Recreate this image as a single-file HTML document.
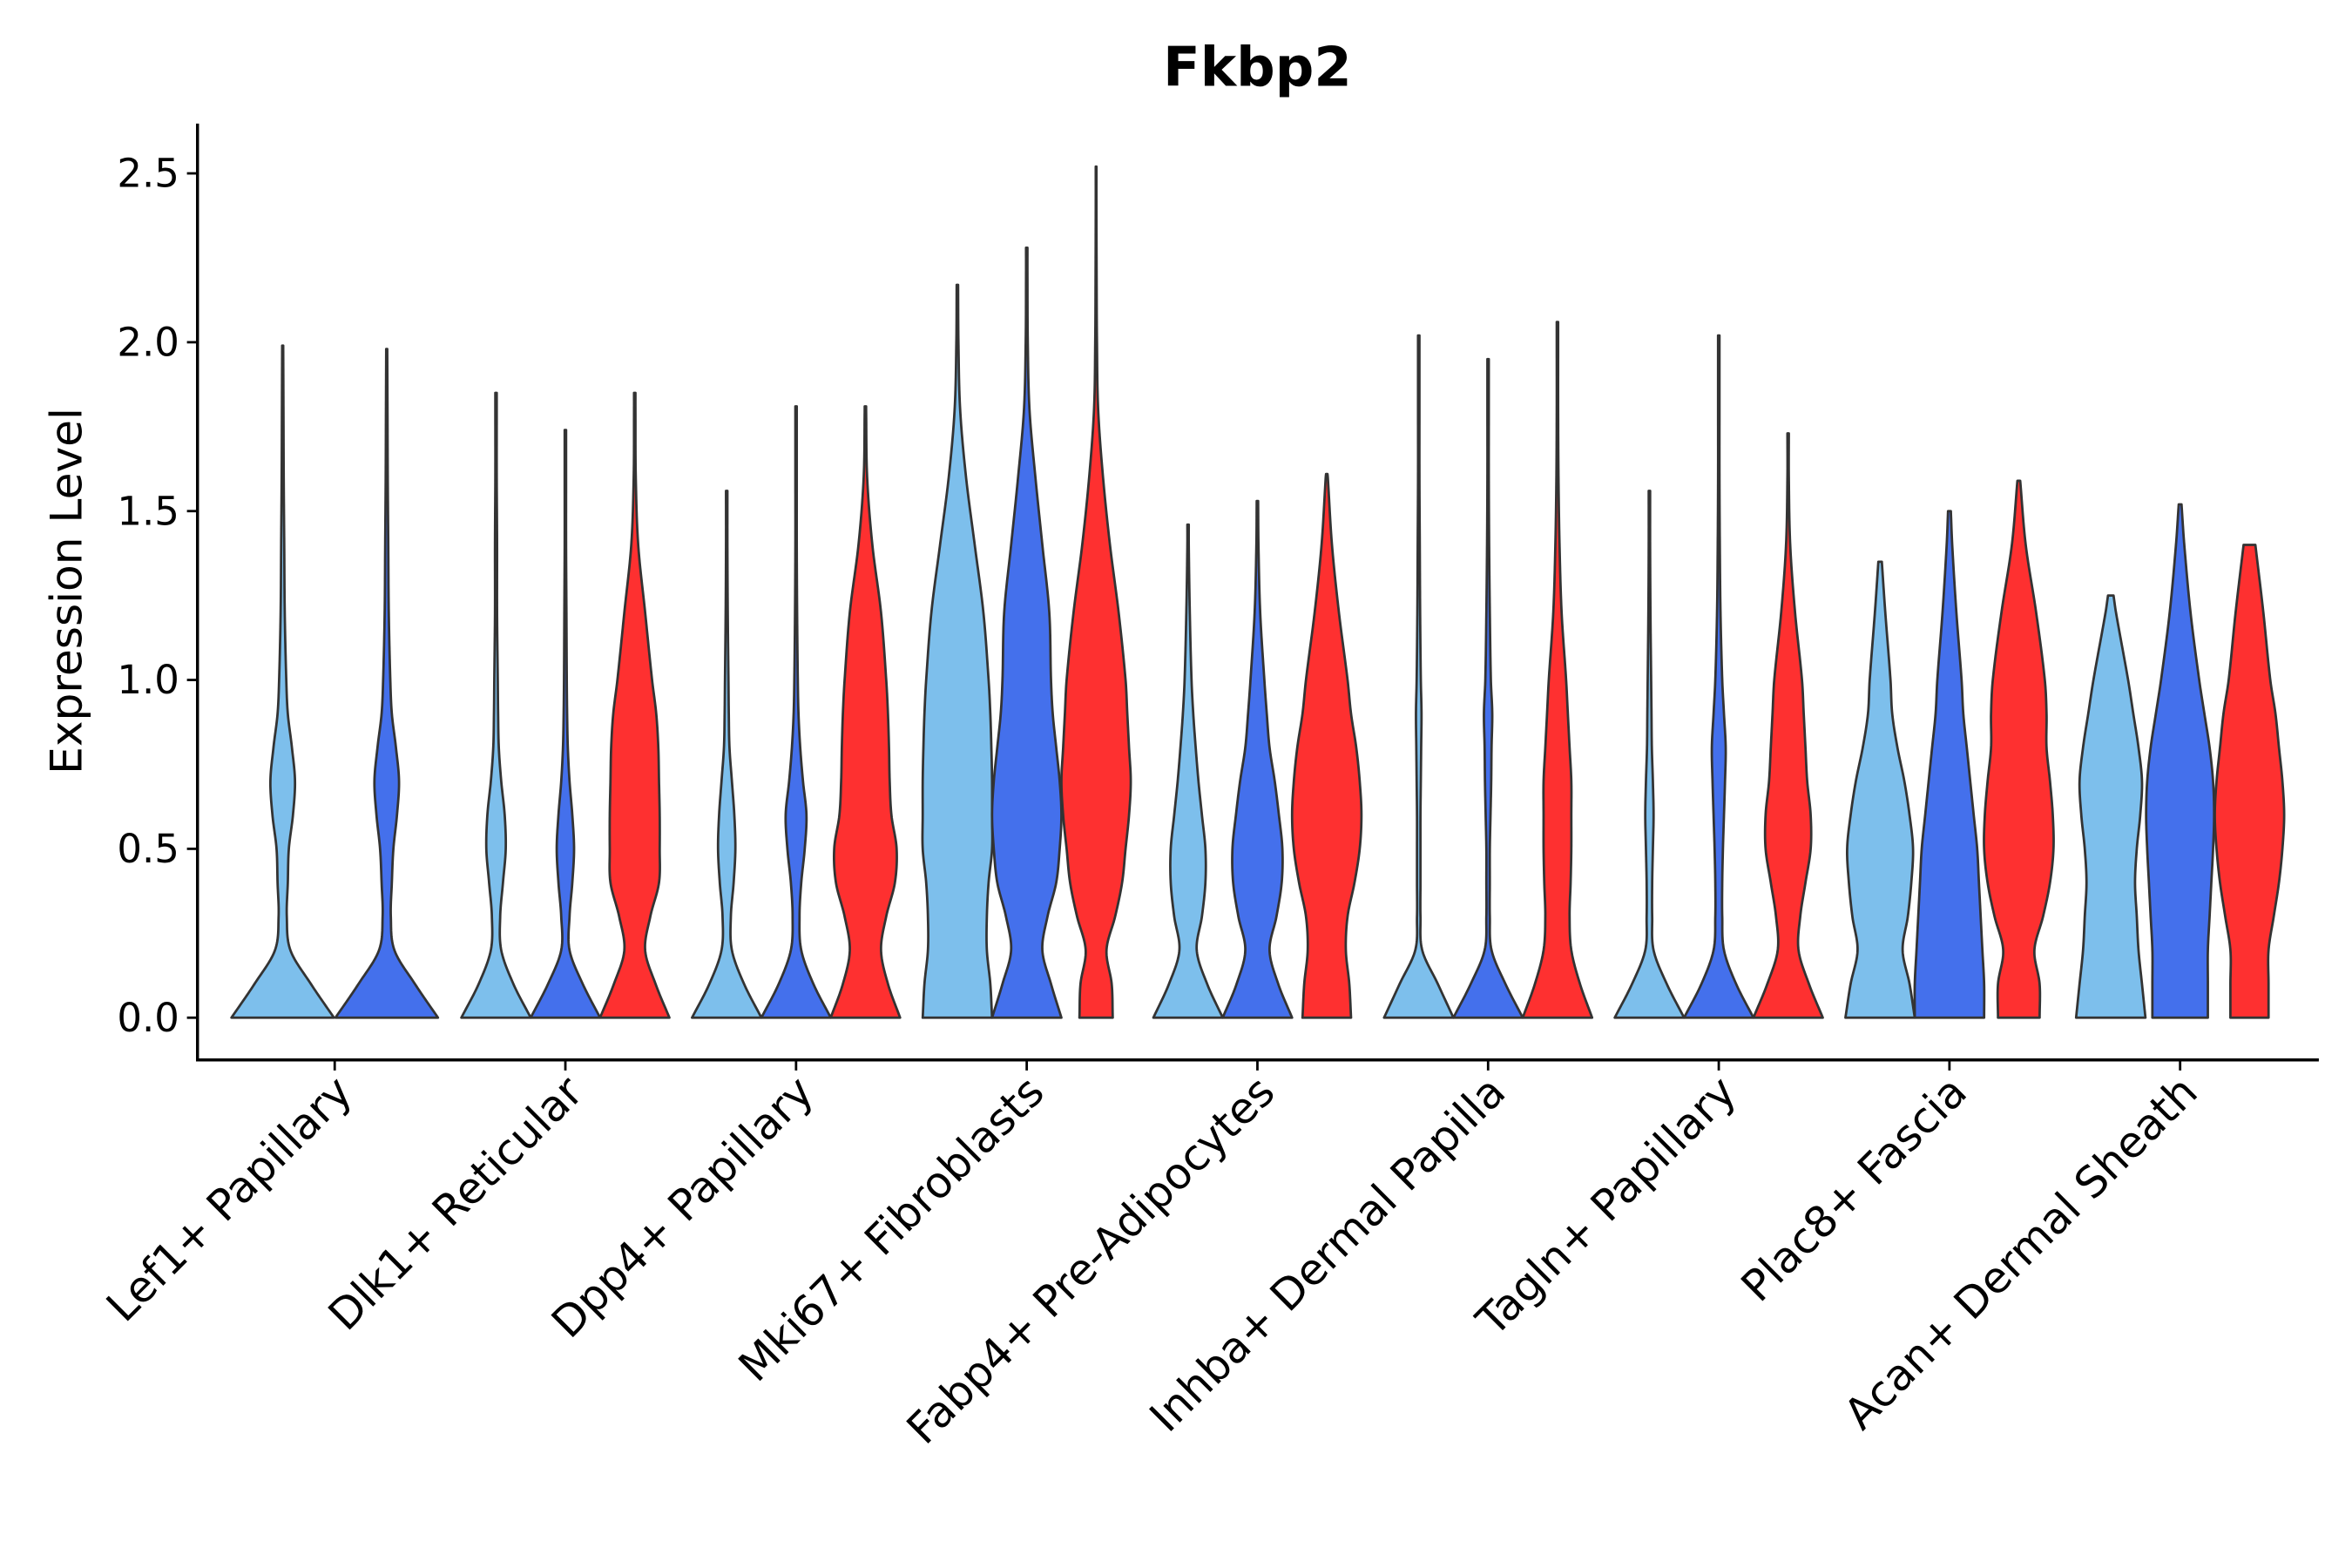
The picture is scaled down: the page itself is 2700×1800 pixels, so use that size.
<!DOCTYPE html>
<html><head><meta charset="utf-8"><style>html,body{margin:0;padding:0;background:#fff}svg{display:block}text{font-family:"DejaVu Sans","Liberation Sans",sans-serif;fill:#000}</style></head>
<body>
<svg id="chart" width="2700" height="1800" viewBox="0 0 1560 1040" xmlns="http://www.w3.org/2000/svg">
<rect width="1560" height="1040" fill="#fff"/>
<text x="834" y="57" text-anchor="middle" font-size="36" font-weight="bold">Fkbp2</text>
<text transform="translate(54,392) rotate(-90)" text-anchor="middle" font-size="29">Expression Level</text>
<g id="plot"></g>
</svg>
<script>
const categories = ["Lef1+ Papillary","Dlk1+ Reticular","Dpp4+ Papillary","Mki67+ Fibroblasts","Fabp4+ Pre-Adipocytes","Inhba+ Dermal Papilla","Tagln+ Papillary","Plac8+ Fascia","Acan+ Dermal Sheath"];
const yTicks = [0, 0.5, 1.0, 1.5, 2.0, 2.5];
const yTickLabels = ["0.0","0.5","1.0","1.5","2.0","2.5"];
const levels = [0,0.1,0.2,0.3,0.4,0.5,0.6,0.7,0.8,0.9,1.0,1.2,1.4,1.6,1.8,2.0,2.2,2.4];
const seriesColors = ["#7dbfec","#4470ec","#fe3030"];
// per category: list of violins [seriesIndex, max value, tip width, density widths at levels]
const violins = [
 [[0,1.99,0.01,[1.0,0.55,0.15,0.08,0.1,0.12,0.2,0.24,0.18,0.1,0.07,0.04,0.03,0.02,0.015,0.01]],
  [1,1.98,0.01,[1.0,0.55,0.15,0.08,0.1,0.13,0.2,0.24,0.18,0.1,0.07,0.04,0.03,0.02,0.015,0.01]]],
 [[0,1.85,0.02,[1.0,0.5,0.15,0.12,0.2,0.28,0.25,0.15,0.08,0.06,0.05,0.03,0.03,0.02,0.02]],
  [1,1.74,0.02,[1.0,0.5,0.12,0.12,0.2,0.25,0.2,0.12,0.07,0.05,0.04,0.03,0.02,0.02]],
  [2,1.85,0.02,[1.0,0.6,0.3,0.45,0.7,0.72,0.72,0.7,0.68,0.62,0.5,0.3,0.1,0.03,0.02]]],
 [[0,1.56,0.02,[1.0,0.5,0.15,0.12,0.2,0.25,0.22,0.15,0.08,0.06,0.05,0.03,0.02]],
  [1,1.81,0.02,[1.0,0.5,0.15,0.1,0.15,0.25,0.3,0.2,0.12,0.07,0.05,0.03,0.02,0.02,0.02]],
  [2,1.81,0.02,[1.0,0.65,0.45,0.6,0.85,0.9,0.75,0.7,0.68,0.65,0.6,0.45,0.2,0.05,0.02]]],
 [[0,2.17,0.02,[1.0,0.95,0.85,0.85,0.9,1.0,1.0,1.0,0.98,0.95,0.9,0.75,0.5,0.25,0.08,0.03,0.02]],
  [1,2.28,0.02,[1.0,0.7,0.45,0.6,0.85,0.95,1.0,0.95,0.85,0.75,0.7,0.65,0.45,0.25,0.08,0.03,0.02,0.01]],
  [2,2.52,0.01,[0.48,0.45,0.3,0.55,0.75,0.85,0.95,1.0,0.95,0.9,0.85,0.65,0.4,0.2,0.06,0.025,0.015,0.01]]],
 [[0,1.46,0.02,[1.0,0.55,0.25,0.4,0.5,0.5,0.4,0.3,0.22,0.15,0.1,0.05,0.02]],
  [1,1.53,0.02,[1.0,0.6,0.35,0.55,0.7,0.72,0.62,0.5,0.35,0.27,0.2,0.08,0.03]],
  [2,1.61,0.02,[0.7,0.65,0.55,0.6,0.8,0.95,1.0,0.95,0.85,0.7,0.6,0.35,0.15,0.03]]],
 [[0,2.02,0.02,[1.0,0.55,0.1,0.05,0.05,0.05,0.05,0.06,0.07,0.08,0.06,0.04,0.03,0.02,0.02,0.02]],
  [1,1.95,0.02,[1.0,0.5,0.1,0.05,0.05,0.05,0.07,0.09,0.1,0.12,0.08,0.05,0.03,0.02,0.02]],
  [2,2.06,0.02,[1.0,0.65,0.4,0.35,0.38,0.4,0.4,0.4,0.35,0.3,0.25,0.12,0.06,0.03,0.02,0.02]]],
 [[0,1.56,0.02,[1.0,0.5,0.12,0.08,0.08,0.1,0.12,0.1,0.07,0.06,0.05,0.03,0.02]],
  [1,2.02,0.02,[1.0,0.5,0.15,0.1,0.1,0.12,0.15,0.18,0.2,0.15,0.1,0.05,0.03,0.02,0.02,0.02]],
  [2,1.73,0.02,[1.0,0.6,0.3,0.35,0.5,0.65,0.65,0.55,0.5,0.45,0.4,0.2,0.06,0.02]]],
 [[0,1.35,0.05,[1.0,0.85,0.65,0.8,0.9,0.95,0.85,0.7,0.5,0.35,0.3,0.15]],
  [1,1.50,0.04,[1.0,1.0,0.95,0.9,0.85,0.8,0.7,0.6,0.5,0.4,0.35,0.2,0.08]],
  [2,1.59,0.04,[0.6,0.6,0.45,0.7,0.9,1.0,0.98,0.9,0.8,0.8,0.75,0.5,0.2]]],
 [[0,1.25,0.08,[1.0,0.9,0.8,0.75,0.7,0.75,0.85,0.9,0.8,0.65,0.5,0.15]],
  [1,1.52,0.04,[0.8,0.8,0.8,0.85,0.9,0.95,0.98,0.95,0.85,0.7,0.55,0.3,0.12]],
  [2,1.40,0.17,[0.55,0.55,0.55,0.7,0.85,0.95,1.0,0.95,0.85,0.75,0.6,0.4,0.2]]]
];

const NS = "http://www.w3.org/2000/svg";
const plot = document.getElementById("plot");
const X0 = 131, X1 = 1538, Ytop = 82, Yaxis = 703;
const yScale = v => 675 - v * 224;
const xCenter = i => 222 + i * 153;
function mk(tag, attrs, parent) { const e = document.createElementNS(NS, tag); for (const k in attrs) e.setAttribute(k, attrs[k]); (parent || plot).appendChild(e); return e; }

function widthAt(ws, mx, tip, v) {
  const pts = [];
  for (let i = 0; i < ws.length && levels[i] < mx; i++) pts.push([levels[i], ws[i]]);
  pts.push([mx, tip]);
  if (v >= mx) return tip;
  let k = 0; while (k < pts.length - 2 && pts[k + 1][0] <= v) k++;
  const p0 = pts[Math.max(0, k - 1)], p1 = pts[k], p2 = pts[k + 1], p3 = pts[Math.min(pts.length - 1, k + 2)];
  const t = (v - p1[0]) / (p2[0] - p1[0]);
  const h = p2[0] - p1[0];
  const m1 = (p2[1] - p0[1]) / (p2[0] - p0[0] || 1) * h;
  const m2 = (p3[1] - p1[1]) / (p3[0] - p1[0] || 1) * h;
  const t2 = t * t, t3 = t2 * t;
  const r = (2 * t3 - 3 * t2 + 1) * p1[1] + (t3 - 2 * t2 + t) * m1 + (-2 * t3 + 3 * t2) * p2[1] + (t3 - t2) * m2;
  return Math.max(r, 0.008);
}

categories.forEach((cat, ci) => {
  const vs = violins[ci];
  const n = vs.length;
  const slot = n === 2 ? 69 : 46;
  const halfMax = n === 2 ? 34 : 23;
  vs.forEach((v, vi) => {
    const [si, mx, tip, ws] = v;
    const cx = xCenter(ci) + (vi - (n - 1) / 2) * slot;
    const right = [], left = [];
    for (let s = 0; s <= 300; s++) {
      const val = mx * s / 300;
      const w = widthAt(ws, mx, tip, val) * halfMax;
      right.push((cx + w).toFixed(2) + "," + yScale(val).toFixed(2));
      left.unshift((cx - w).toFixed(2) + "," + yScale(val).toFixed(2));
    }
    const p = mk("path", { d: "M" + right.join("L") + "L" + left.join("L") + "Z", fill: seriesColors[si], stroke: "#333", "stroke-width": 1.6, "stroke-linejoin": "round" });
    
    
  });
  const tk = mk("line", { x1: xCenter(ci), x2: xCenter(ci), y1: Yaxis, y2: Yaxis + 7, stroke: "#000", "stroke-width": 1.6 });
  
  
  const lb = mk("text", { transform: "translate(" + (xCenter(ci) + 13) + "," + (Yaxis + 23) + ") rotate(-45)", "text-anchor": "end", "font-size": "28.5" });
  lb.textContent = cat;
  
  
});

yTicks.forEach((t, i) => {
  const y = yScale(t);
  const tk = mk("line", { x1: X0 - 7, x2: X0, y1: y, y2: y, stroke: "#000", "stroke-width": 1.6 });
  
  
  const lb = mk("text", { x: X0 - 12, y: y + 9, "text-anchor": "end", "font-size": "26" });
  lb.textContent = yTickLabels[i];
  
  
});
const ya = mk("line", { x1: X0, x2: X0, y1: Ytop, y2: Yaxis, stroke: "#000", "stroke-width": 2 });


const xa = mk("line", { x1: X0 - 1, x2: X1, y1: Yaxis, y2: Yaxis, stroke: "#000", "stroke-width": 2 });


</script>
</body></html>
